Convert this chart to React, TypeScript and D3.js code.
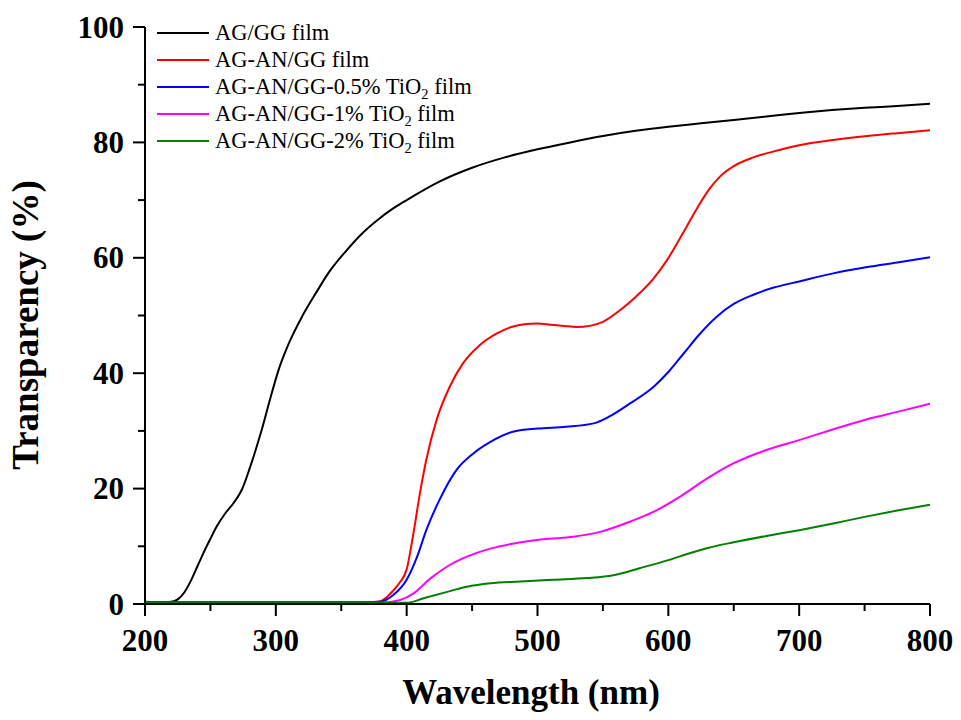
import React from "react";
import * as d3 from "d3";

const agGG: [number, number][] = [
  [200, 0.4], [210, 0.3], [220, 0.4], [225, 0.8], [230, 2], [235, 4], [240, 6.5], [245, 9], [250, 11.3],
  [255, 13.5], [261, 15.6], [268, 17.6], [274, 19.8], [280, 23.5], [285, 27], [290, 30.8], [295, 35],
  [302, 40.5], [310, 45.2], [320, 49.8], [332, 54.4], [340, 57.3], [353, 61], [365, 64], [378, 66.6],
  [390, 68.6], [400, 70], [425, 73.2], [450, 75.6], [475, 77.4], [500, 78.8], [525, 80], [550, 81.1],
  [575, 82], [600, 82.7], [625, 83.3], [650, 83.9], [675, 84.5], [700, 85.1], [725, 85.6], [750, 86],
  [775, 86.3], [800, 86.7],
];
const agAnGG: [number, number][] = [
  [200, 0.3], [300, 0.3], [370, 0.3], [380, 0.5], [390, 2.4], [395, 3.8], [400, 6], [405, 12], [410, 19],
  [415, 25], [423, 32], [433, 37.7], [443, 41.7], [456, 44.9], [469, 46.9], [480, 48], [490, 48.5],
  [500, 48.6], [510, 48.4], [520, 48.2], [530, 48], [540, 48.2], [550, 48.9], [563, 50.9], [575, 53.2],
  [588, 56.2], [599, 59.6], [611, 64.2], [622, 68.6], [631, 71.8], [640, 74.2], [650, 75.9], [665, 77.4],
  [680, 78.4], [700, 79.5], [726, 80.4], [752, 81.1], [775, 81.6], [800, 82.1],
];
const tio05: [number, number][] = [
  [200, 0.3], [370, 0.3], [380, 0.4], [390, 1.6], [400, 4.2], [408, 8.2], [415, 12.8], [425, 18],
  [438, 23.2], [451, 26.1], [464, 28.1], [482, 29.9], [500, 30.4], [522, 30.7], [543, 31.3], [555, 32.5],
  [571, 34.8], [589, 37.7], [600, 40.2], [612, 43.5], [624, 46.8], [637, 49.8], [650, 52], [665, 53.6],
  [680, 54.8], [700, 55.9], [726, 57.3], [752, 58.4], [775, 59.2], [800, 60.1],
];
const tio1: [number, number][] = [
  [200, 0.2], [380, 0.2], [395, 0.7], [405, 1.8], [418, 4.4], [431, 6.5], [446, 8.2], [464, 9.6],
  [482, 10.5], [500, 11.1], [525, 11.6], [548, 12.5], [571, 14.3], [589, 16], [609, 18.6], [630, 21.8],
  [650, 24.4], [675, 26.7], [700, 28.4], [725, 30.2], [750, 31.9], [775, 33.3], [800, 34.7],
];
const tio2: [number, number][] = [
  [200, 0.2], [400, 0.2], [413, 1], [431, 2.1], [446, 3], [464, 3.6], [487, 3.9], [512, 4.2], [538, 4.5],
  [558, 5], [578, 6.2], [600, 7.6], [615, 8.7], [630, 9.7], [650, 10.7], [675, 11.8], [700, 12.8],
  [725, 13.9], [750, 15.1], [775, 16.2], [800, 17.2],
];

const seriesNames = ["AG/GG film", "AG-AN/GG film", "AG-AN/GG-0.5% TiO", "AG-AN/GG-1% TiO", "AG-AN/GG-2% TiO"];
const seriesSub = [false, false, true, true, true];
const seriesColors = ["#000000", "#ff0000", "#0000ff", "#ff00ff", "#008000"];
const seriesData = [agGG, agAnGG, tio05, tio1, tio2];

const xTicks = [200, 300, 400, 500, 600, 700, 800];
const xMinor = [250, 350, 450, 550, 650, 750];
const yTicks = [0, 20, 40, 60, 80, 100];
const yMinor = [10, 30, 50, 70, 90];

export default function App() {
  const x = d3.scaleLinear().domain([200, 800]).range([145, 930]);
  const y = d3.scaleLinear().domain([0, 100]).range([604, 27]);
  const line = d3
    .line<[number, number]>()
    .x((d) => x(d[0]))
    .y((d) => y(d[1]))
    .curve(d3.curveMonotoneX);
  const font = "'Liberation Serif', 'Times New Roman', serif";

  return (
    <svg
      width={961}
      height={720}
      style={{ position: "absolute", left: 0, top: 0, background: "#fff" }}
      fontFamily={font}
    >
      <rect x={0} y={0} width={961} height={720} fill="#fff" />
      {seriesData.map((s, i) => (
        <path key={i} d={line(s) || ""} fill="none" stroke={seriesColors[i]} strokeWidth={2} />
      ))}
      {/* axes */}
      <line x1={x(200)} x2={x(800)} y1={y(0)} y2={y(0)} stroke="#000" strokeWidth={2} />
      <line x1={x(200)} x2={x(200)} y1={y(0)} y2={y(100)} stroke="#000" strokeWidth={2} />
      {xTicks.map((t) => (
        <g key={"xt" + t}>
          <line x1={x(t)} x2={x(t)} y1={y(0)} y2={y(0) + 12} stroke="#000" strokeWidth={2} />
          <text x={x(t)} y={651} textAnchor="middle" fontSize={31} fontWeight="bold">
            {t}
          </text>
        </g>
      ))}
      {xMinor.map((t) => (
        <line key={"xm" + t} x1={x(t)} x2={x(t)} y1={y(0)} y2={y(0) + 7} stroke="#000" strokeWidth={2} />
      ))}
      {yTicks.map((t) => (
        <g key={"yt" + t}>
          <line x1={x(200) - 12} x2={x(200)} y1={y(t)} y2={y(t)} stroke="#000" strokeWidth={2} />
          <text x={124} y={y(t)} dy="0.34em" textAnchor="end" fontSize={31} fontWeight="bold">
            {t}
          </text>
        </g>
      ))}
      {yMinor.map((t) => (
        <line key={"ym" + t} x1={x(200) - 7} x2={x(200)} y1={y(t)} y2={y(t)} stroke="#000" strokeWidth={2} />
      ))}
      <text x={531} y={704} textAnchor="middle" fontSize={35} fontWeight="bold">
        Wavelength (nm)
      </text>
      <text
        transform="translate(38,325) rotate(-90)"
        textAnchor="middle"
        fontSize={37}
        fontWeight="bold"
      >
        Transparency (%)
      </text>
      {/* legend */}
      {seriesNames.map((n, i) => {
        const ly = 33 + i * 27;
        return (
          <g key={"lg" + i}>
            <line x1={157} x2={209} y1={ly} y2={ly} stroke={seriesColors[i]} strokeWidth={2} />
            <text x={215} y={ly + 7} fontSize={22.5}>
              {n}
              {seriesSub[i] ? (
                <>
                  <tspan fontSize={14.5} dy={5}>2</tspan>
                  <tspan dy={-5}> film</tspan>
                </>
              ) : null}
            </text>
          </g>
        );
      })}
    </svg>
  );
}
